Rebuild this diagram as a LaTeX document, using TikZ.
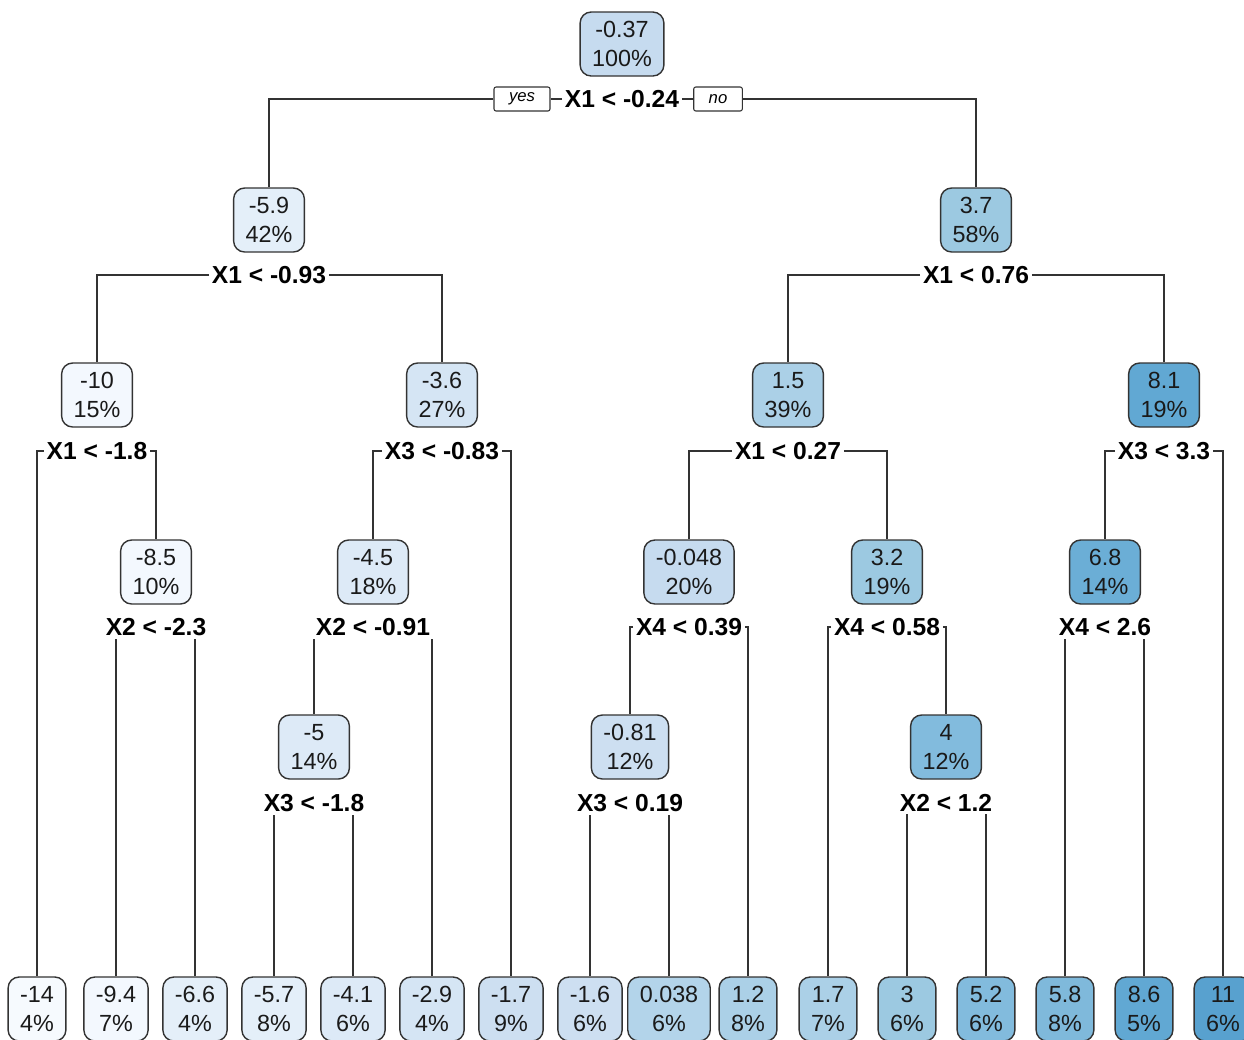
\documentclass[tikz,border=0pt]{standalone}
\usepackage{fontspec}
\setmainfont{Liberation Sans}

\definecolor{ink}{HTML}{1A1A1A}
\definecolor{edge}{HTML}{333333}
\definecolor{cA}{HTML}{F6FAFE}
\definecolor{cB}{HTML}{F3F8FE}
\definecolor{cC}{HTML}{E4EFF9}
\definecolor{cD}{HTML}{DDEAF7}
\definecolor{cE}{HTML}{D5E5F4}
\definecolor{cF}{HTML}{CDDFF1}
\definecolor{cG}{HTML}{C6DBEF}
\definecolor{cH}{HTML}{B3D4EA}
\definecolor{cI}{HTML}{ABD0E7}
\definecolor{cJ}{HTML}{9CC9E1}
\definecolor{cK}{HTML}{82BBDD}
\definecolor{cL}{HTML}{7FB9DB}
\definecolor{cM}{HTML}{6BAED6}
\definecolor{cN}{HTML}{61A8D3}
\definecolor{cO}{HTML}{58A1CF}

\begin{document}
\begin{tikzpicture}[x=0.02cm,y=-0.02cm,
  box/.style={draw=edge,line width=0.8pt,rounded corners=0.22cm,align=center,
    inner xsep=0.24cm,inner ysep=0pt,minimum height=1.28cm,text=ink,
    font=\fontsize{13.3}{16.4}\selectfont},
  splt/.style={font=\bfseries\fontsize{14}{16}\selectfont,inner sep=0.05cm,text=black},
  yn/.style={draw=edge,line width=0.6pt,rounded corners=0.04cm,inner xsep=0.3cm,
    inner ysep=0pt,minimum height=0.48cm,fill=white,font=\itshape\fontsize{9.5}{11}\selectfont},
  lnk/.style={line width=0.6pt,draw=edge}]
\useasboundingbox (0,0) rectangle (1244,1039);

% internal nodes
\node[box,fill=cG] (n1) at (622,44) {-0.37\\100\%};
\node[box,fill=cC] (n2) at (269,220) {-5.9\\42\%};
\node[box,fill=cJ] (n3) at (976,220) {3.7\\58\%};
\node[box,fill=cB] (n4) at (97,395) {-10\\15\%};
\node[box,fill=cE] (n5) at (442,395) {-3.6\\27\%};
\node[box,fill=cI] (n6) at (788,395) {1.5\\39\%};
\node[box,fill=cN] (n7) at (1164,395) {8.1\\19\%};
\node[box,fill=cB] (n9) at (156,572) {-8.5\\10\%};
\node[box,fill=cD] (n10) at (373,572) {-4.5\\18\%};
\node[box,fill=cG] (n12) at (689,572) {-0.048\\20\%};
\node[box,fill=cJ] (n13) at (887,572) {3.2\\19\%};
\node[box,fill=cM] (n14) at (1105,572) {6.8\\14\%};
\node[box,fill=cD] (n20) at (314,747) {-5\\14\%};
\node[box,fill=cF] (n24) at (630,747) {-0.81\\12\%};
\node[box,fill=cK] (n27) at (946,747) {4\\12\%};

% split labels
\node[splt] (s1) at (622,99) {X1 < -0.24};
\node[splt] (s2) at (269,275) {X1 < -0.93};
\node[splt] (s3) at (976,275) {X1 < 0.76};
\node[splt] (s4) at (97,451) {X1 < -1.8};
\node[splt] (s5) at (442,451) {X3 < -0.83};
\node[splt] (s6) at (788,451) {X1 < 0.27};
\node[splt] (s7) at (1164,451) {X3 < 3.3};
\node[splt] (s9) at (156,627) {X2 < -2.3};
\node[splt] (s10) at (373,627) {X2 < -0.91};
\node[splt] (s12) at (689,627) {X4 < 0.39};
\node[splt] (s13) at (887,627) {X4 < 0.58};
\node[splt] (s14) at (1105,627) {X4 < 2.6};
\node[splt] (s20) at (314,803) {X3 < -1.8};
\node[splt] (s24) at (630,803) {X3 < 0.19};
\node[splt] (s27) at (946,803) {X2 < 1.2};

% leaves
\node[box,fill=cA] (l1) at (37,1009) {-14\\4\%};
\node[box,fill=cB] (l2) at (116,1009) {-9.4\\7\%};
\node[box,fill=cC] (l3) at (195,1009) {-6.6\\4\%};
\node[box,fill=cC] (l4) at (274,1009) {-5.7\\8\%};
\node[box,fill=cD] (l5) at (353,1009) {-4.1\\6\%};
\node[box,fill=cE] (l6) at (432,1009) {-2.9\\4\%};
\node[box,fill=cF] (l7) at (511,1009) {-1.7\\9\%};
\node[box,fill=cF] (l8) at (590,1009) {-1.6\\6\%};
\node[box,fill=cH] (l9) at (669,1009) {0.038\\6\%};
\node[box,fill=cI] (l10) at (748,1009) {1.2\\8\%};
\node[box,fill=cI] (l11) at (828,1009) {1.7\\7\%};
\node[box,fill=cJ] (l12) at (907,1009) {3\\6\%};
\node[box,fill=cK] (l13) at (986,1009) {5.2\\6\%};
\node[box,fill=cL] (l14) at (1065,1009) {5.8\\8\%};
\node[box,fill=cN] (l15) at (1144,1009) {8.6\\5\%};
\node[box,fill=cO] (l16) at (1223,1009) {11\\6\%};

% root split with yes / no
\node[yn] (yes) at (522,99) {yes};
\node[yn] (no) at (718,99) {no};
\draw[lnk] (s1.west) -- (yes.east);
\draw[lnk] (yes.west) -| (n2.north);
\draw[lnk] (s1.east) -- (no.west);
\draw[lnk] (no.east) -| (n3.north);

% children outside the label
\foreach \s/\l/\r in {s2/n4/n5, s3/n6/n7, s4/l1/n9, s5/n10/l7, s6/n12/n13,
    s7/n14/l16, s12/n24/l10, s13/l11/n27}{
  \draw[lnk] (\s.west) -| (\l.north);
  \draw[lnk] (\s.east) -| (\r.north);
}
% children under the label
\foreach \s/\l/\r in {s9/l2/l3, s10/n20/l6, s14/l14/l15, s20/l4/l5,
    s24/l8/l9, s27/l12/l13}{
  \draw[lnk] (\l.north) -- (\l.north |- \s.south);
  \draw[lnk] (\r.north) -- (\r.north |- \s.south);
}

\end{tikzpicture}
\end{document}
